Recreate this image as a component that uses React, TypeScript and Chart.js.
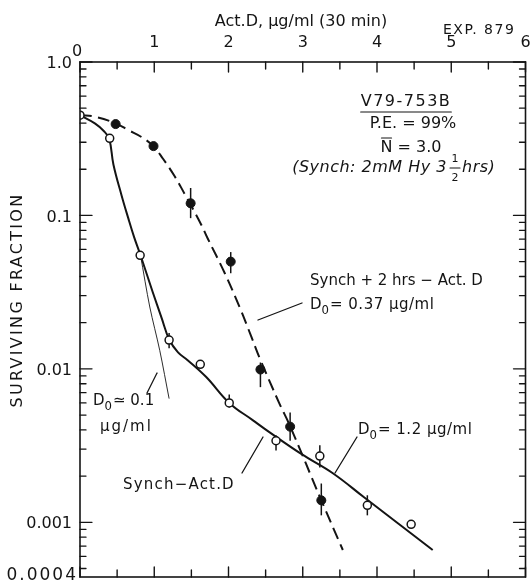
import React, { useEffect, useRef } from "react";
import { Chart, registerables } from "chart.js";

Chart.register(...registerables);

// ---- data ----
const xTickValues = [0, 1, 2, 3, 4, 5, 6];
const xTickLabels = ["0", "1", "2", "3", "4", "5", "6"];
const yTickValues = [1, 0.1, 0.01, 0.001, 0.00044];
const yTickLabels = ["1.0", "0.1", "0.01", "0.001", "0.0004"];

// Synch - Act.D (open circles)
const openDose = [0, 0.4, 0.81, 1.2, 1.62, 2.01, 2.64, 3.23, 3.87, 4.46];
const openSurv = [0.45, 0.318, 0.055, 0.0154, 0.0107, 0.006, 0.0034, 0.0027, 0.00129, 0.00097];
const openErrLow = [null, null, null, 0.0136, null, 0.0056, 0.00294, 0.00228, 0.00111, null];
const openErrHigh = [null, null, null, 0.0171, null, 0.0068, 0.00369, 0.00318, 0.0015, null];

// Synch + 2 hrs - Act.D (filled circles)
const filledDose = [0.48, 0.99, 1.49, 2.03, 2.43, 2.83, 3.25];
const filledSurv = [0.394, 0.283, 0.12, 0.05, 0.0099, 0.0042, 0.00139];
const filledErrLow = [null, null, 0.096, 0.042, 0.0076, 0.0034, 0.00111];
const filledErrHigh = [null, null, 0.151, 0.0577, 0.011, 0.0052, 0.00179];

// hand-drawn fit curves
const solidFitDose = [0, 0.2, 0.32, 0.394, 0.45, 0.56, 0.65, 0.73, 0.815, 0.98, 1.1, 1.2, 1.32, 1.45, 1.7, 2.01, 2.33, 2.55, 2.99, 3.41, 3.83, 4.75];
const solidFitSurv = [0.45, 0.398, 0.355, 0.315, 0.215, 0.135, 0.096, 0.072, 0.055, 0.0316, 0.0214, 0.0156, 0.0128, 0.0114, 0.00885, 0.006, 0.00462, 0.00387, 0.00277, 0.00208, 0.00145, 0.00066];
const dashedFitDose = [0, 0.2, 0.48, 0.65, 0.83, 0.99, 1.118, 1.275, 1.41, 1.49, 1.633, 1.72, 1.95, 2.15, 2.31, 2.42, 2.68, 2.83, 3.25, 3.54];
const dashedFitSurv = [0.45, 0.44, 0.398, 0.36, 0.324, 0.282, 0.234, 0.18, 0.138, 0.1175, 0.087, 0.0708, 0.042, 0.0252, 0.0161, 0.01175, 0.00603, 0.00423, 0.00139, 0.00066];
const d0LineDose = [0.815, 0.94, 1.074, 1.2];
const d0LineSurv = [0.055, 0.0253, 0.0132, 0.0064];

const INK = "#141414";
const FONT = '"DejaVu Sans", sans-serif';

const pts = (xs: number[], ys: number[]) => xs.map((x, i) => ({ x, y: ys[i] }));

function txt(ctx: CanvasRenderingContext2D, s: string, x: number, y: number, size: number,
  align: CanvasTextAlign = "left", ls = 0, italic = false) {
  ctx.font = `${italic ? "italic " : ""}${size}px ${FONT}`;
  ctx.textAlign = align;
  ctx.textBaseline = "middle";
  (ctx as any).letterSpacing = `${ls}px`;
  ctx.fillText(s, x, y);
  const w = ctx.measureText(s).width;
  (ctx as any).letterSpacing = "0px";
  return w;
}

function d0(ctx: CanvasRenderingContext2D, x: number, y: number, size: number, rest: string, ls = 0) {
  const w = txt(ctx, "D", x, y, size);
  const w2 = txt(ctx, "0", x + w, y + size * 0.42, size * 0.78);
  txt(ctx, rest, x + w + w2 + 1, y, size, "left", ls);
}

function line(ctx: CanvasRenderingContext2D, x1: number, y1: number, x2: number, y2: number, w = 1.3) {
  ctx.lineWidth = w;
  ctx.beginPath();
  ctx.moveTo(x1, y1);
  ctx.lineTo(x2, y2);
  ctx.stroke();
}

const paperPlugin = {
  id: "paper",
  beforeDraw(chart: any) {
    const ctx = chart.ctx;
    ctx.save();
    ctx.fillStyle = "#fff";
    ctx.fillRect(0, 0, chart.width, chart.height);
    ctx.restore();
  },
  beforeDatasetsDraw(chart: any) {
    const ctx = chart.ctx;
    const xs = chart.scales.x, ys = chart.scales.y;
    ctx.save();
    ctx.strokeStyle = INK;
    const bars = (d: number[], lo: (number | null)[], hi: (number | null)[]) => {
      d.forEach((x, i) => {
        if (lo[i] == null || hi[i] == null) return;
        const px = xs.getPixelForValue(x);
        line(ctx, px, ys.getPixelForValue(hi[i]), px, ys.getPixelForValue(lo[i]), 1.5);
      });
    };
    bars(openDose, openErrLow, openErrHigh);
    bars(filledDose, filledErrLow, filledErrHigh);
    ctx.restore();
  },
  afterDraw(chart: any) {
    const ctx: CanvasRenderingContext2D = chart.ctx;
    const xs = chart.scales.x, ys = chart.scales.y;
    const { left, right, top, bottom } = chart.chartArea;
    ctx.save();
    ctx.strokeStyle = INK;
    ctx.fillStyle = INK;
    ctx.lineCap = "round";
    // frame
    ctx.lineWidth = 1.6;
    ctx.strokeRect(left, top, right - left, bottom - top);
    // x ticks (top and bottom, inward)
    for (let v = 0; v <= 6.001; v += 0.5) {
      const px = xs.getPixelForValue(v);
      const major = Math.abs(v - Math.round(v)) < 1e-6;
      const len = major ? 10 : 7;
      line(ctx, px, top, px, top + len, 1.4);
      line(ctx, px, bottom, px, bottom - len, 1.4);
    }
    // y ticks (left and right, inward)
    for (let k = -4; k <= 0; k++) {
      for (let m = 1; m <= 9; m++) {
        const v = m * Math.pow(10, k);
        if (v < ys.min * 0.999 || v > ys.max * 1.001) continue;
        const py = ys.getPixelForValue(v);
        const len = m === 1 ? 12 : 6;
        line(ctx, left, py, left + len, py, 1.3);
        line(ctx, right, py, right - len, py, 1.3);
      }
    }
    // x tick labels (top)
    xTickValues.forEach((v, i) => {
      const px = xs.getPixelForValue(v);
      if (v === 0) txt(ctx, xTickLabels[i], px - 3, top - 10, 16, "center");
      else txt(ctx, xTickLabels[i], px, top - 19, 16, "center");
    });
    // y tick labels
    yTickValues.forEach((v, i) => {
      const py = ys.getPixelForValue(v);
      if (i === yTickLabels.length - 1) txt(ctx, yTickLabels[i], left - 2, py - 1, 17, "right", 2);
      else txt(ctx, yTickLabels[i], left - 8, py + 2, 16, "right");
    });
    // axis titles
    txt(ctx, "Act.D, \u03bcg/ml (30 min)", 301, 22, 16, "center");
    txt(ctx, "EXP. 879", 443, 30, 14, "left", 1.5);
    ctx.save();
    ctx.translate(18, 300);
    ctx.rotate(-Math.PI / 2);
    txt(ctx, "SURVIVING FRACTION", 0, 0, 16, "center", 2.3);
    ctx.restore();

    // info block
    const w1 = txt(ctx, "V79-753B", 406, 102, 16, "center", 1.5);
    line(ctx, 406 - w1 / 2, 112, 406 + w1 / 2, 112, 1.2);
    txt(ctx, "P.E. = 99%", 413, 124, 16, "center");
    const nw = txt(ctx, "N = 3.0", 411, 148, 16, "center");
    const nx = 411 - nw / 2;
    line(ctx, nx + 1, 138, nx + 11, 138, 1.2);
    // (Synch: 2mM Hy 3 1/2 hrs)
    txt(ctx, "(Synch: 2mM Hy 3", 447, 168, 16, "right", 0.5, true);
    txt(ctx, "1", 455, 159, 11, "center");
    line(ctx, 450, 168, 460, 168, 1.1);
    txt(ctx, "2", 455, 178, 11, "center");
    txt(ctx, "hrs)", 462, 168, 16, "left", 0.5, true);

    // curve labels
    txt(ctx, "Synch + 2 hrs \u2212 Act. D", 310, 281, 15);
    d0(ctx, 310, 305, 15, "= 0.37 \u03bcg/ml", 0.5);
    line(ctx, 258, 320, 302, 303);

    d0(ctx, 93, 401, 15, "\u2243 0.1");
    txt(ctx, "\u03bcg/ml", 100, 427, 15, "left", 2);
    line(ctx, 147, 393, 157, 373);

    txt(ctx, "Synch\u2212Act.D", 123, 485, 15, "left", 1.2);
    line(ctx, 242, 473, 263, 437);

    d0(ctx, 358, 430, 15, "= 1.2 \u03bcg/ml", 0.5);
    line(ctx, 335, 473, 357, 437);

    ctx.restore();
  },
};

export default function App() {
  const ref = useRef<HTMLCanvasElement>(null);
  useEffect(() => {
    const canvas = ref.current!;
    const chart = new Chart(canvas, {
      type: "scatter",
      data: {
        datasets: [
          {
            label: "Synch+2hrs-Act.D",
            data: pts(filledDose, filledSurv),
            pointStyle: "circle",
            pointRadius: 4.5,
            pointBackgroundColor: INK,
            pointBorderColor: INK,
            pointBorderWidth: 1,
            showLine: false,
          },
          {
            label: "Synch-Act.D",
            data: pts(openDose, openSurv),
            pointStyle: "circle",
            pointRadius: 4,
            pointBackgroundColor: "#fff",
            pointBorderColor: INK,
            pointBorderWidth: 1.5,
            showLine: false,
          },
          {
            label: "fit solid",
            data: pts(solidFitDose, solidFitSurv),
            showLine: true,
            pointRadius: 0,
            borderColor: INK,
            borderWidth: 2,
            tension: 0.4,
          },
          {
            label: "fit dashed",
            data: pts(dashedFitDose, dashedFitSurv),
            showLine: true,
            pointRadius: 0,
            borderColor: INK,
            borderWidth: 2,
            borderDash: [12, 6],
            tension: 0.4,
          },
          {
            label: "D0 0.1",
            data: pts(d0LineDose, d0LineSurv),
            showLine: true,
            pointRadius: 0,
            borderColor: INK,
            borderWidth: 0.9,
            tension: 0.3,
          },
        ],
      },
      options: {
        responsive: false,
        animation: false,
        devicePixelRatio: 1,
        layout: { padding: { left: 80, top: 62, right: 4, bottom: 9 } },
        plugins: { legend: { display: false }, tooltip: { enabled: false } },
        scales: {
          x: { type: "linear", min: 0, max: 6, display: false },
          y: { type: "logarithmic", min: 0.00044, max: 1, display: false },
        },
      },
      plugins: [paperPlugin],
    } as any);
    return () => chart.destroy();
  }, []);
  return (
    <div style={{ position: "absolute", left: 0, top: 0, width: 531, height: 586, background: "#fff" }}>
      <canvas ref={ref} width={531} height={586} style={{ display: "block", width: 531, height: 586 }} />
    </div>
  );
}
